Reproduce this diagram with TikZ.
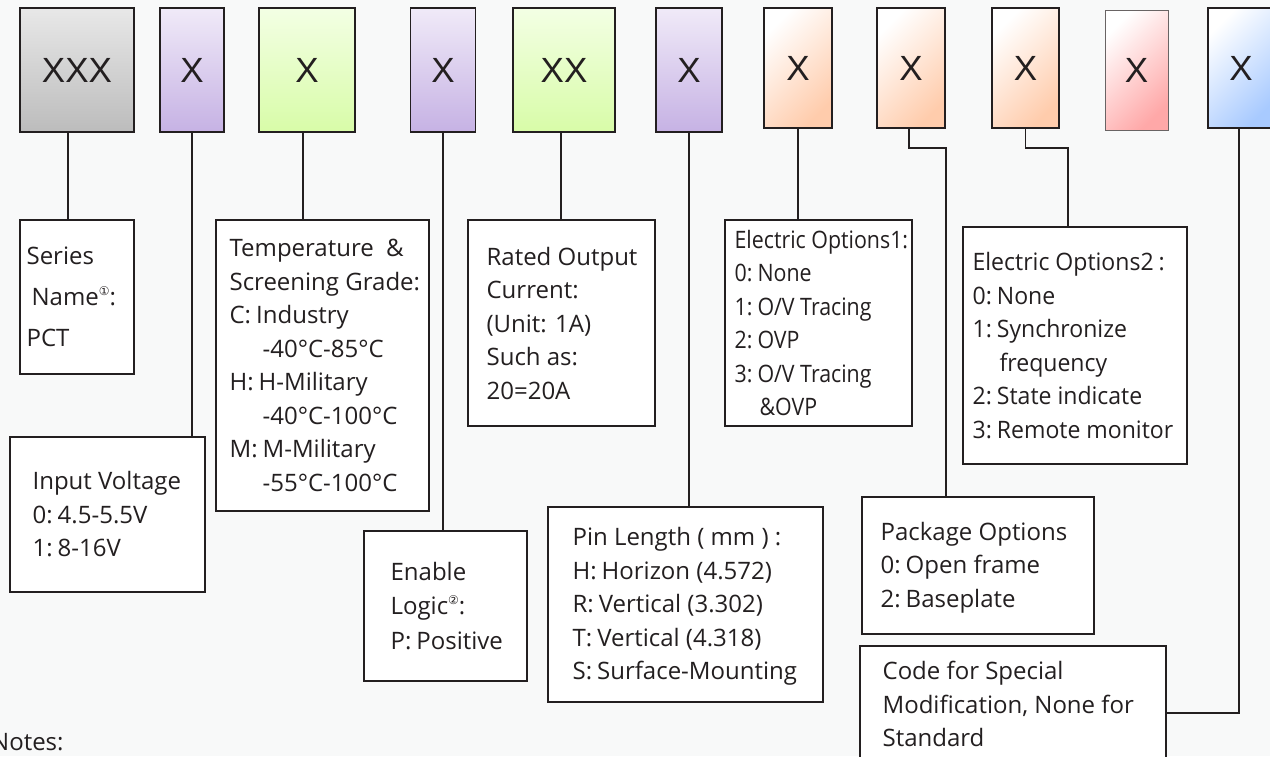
\documentclass[tikz,border=0pt]{standalone}
\usepackage{fontspec}
\setmainfont{Open Sans}
\newfontfamily\narrowfont[FakeStretch=0.89]{Open Sans}
\newfontfamily\semifont[FakeStretch=0.96]{Open Sans}
\newfontfamily\xlabelfont{Liberation Sans}
\newfontfamily\dejavu{DejaVu Sans}
\usepackage{xcolor}
\usetikzlibrary{positioning}

\definecolor{ink}{RGB}{35,31,32}
\definecolor{bgcol}{RGB}{248,249,249}
\definecolor{greytop}{RGB}{232,232,232}
\definecolor{greybot}{RGB}{188,188,188}
\definecolor{lilactop}{RGB}{240,234,248}
\definecolor{lilacbot}{RGB}{198,178,228}
\definecolor{limetop}{RGB}{243,255,228}
\definecolor{limebot}{RGB}{216,252,168}
\definecolor{peach}{RGB}{255,204,172}
\definecolor{rose}{RGB}{255,168,168}
\definecolor{sky}{RGB}{168,202,255}
\definecolor{rosedraw}{RGB}{105,100,100}

\newcommand{\circnum}[1]{\raisebox{10pt}{\dejavu\fontsize{12}{12}\selectfont #1}}
\newcommand{\colsp}{:\hspace{5pt}}

\tikzset{
  codebox/.style={draw=ink, line width=1.3pt, inner sep=0pt, text=ink,
    font=\xlabelfont\fontsize{35}{35}\selectfont},
  vshade/.style 2 args={top color=#1, bottom color=#2},
  dshade/.style={top color=white, bottom color=#1, shading angle=45},
  descbox/.style={draw=ink, line width=1.2pt, fill=white, inner sep=0pt},
  desctext/.style={inner sep=0pt, align=left, text=ink,
    font=\fontsize{24}{33.5}\selectfont},
  conn/.style={draw=ink, line width=1.8pt},
}

\begin{document}
\begin{tikzpicture}[x=1pt, y=-1pt]
    % Sfondo
    \fill[bgcol] (0,0) rectangle (1270,756);
    \useasboundingbox (0,0) rectangle (1270,756);

    % Riquadri del codice
    \node[codebox, vshade={greytop}{greybot}, minimum width=114pt, minimum height=124pt] (b1) at (77,70) {XXX};
    \node[codebox, vshade={lilactop}{lilacbot}, minimum width=64pt, minimum height=124pt] (b2) at (192,70) {X};
    \node[codebox, vshade={limetop}{limebot}, minimum width=96pt, minimum height=124pt] (b3) at (307,70) {X};
    \node[codebox, vshade={lilactop}{lilacbot}, minimum width=65pt, minimum height=124pt] (b4) at (443,70) {X};
    \node[codebox, vshade={limetop}{limebot}, minimum width=102pt, minimum height=124pt] (b5) at (564,70) {XX};
    \node[codebox, vshade={lilactop}{lilacbot}, minimum width=66pt, minimum height=124pt] (b6) at (689,70) {X};
    \node[codebox, dshade=peach, minimum width=68pt, minimum height=120pt] (b7) at (798,68) {X};
    \node[codebox, dshade=peach, minimum width=68pt, minimum height=120pt] (b8) at (911,68) {X};
    \node[codebox, dshade=peach, minimum width=67pt, minimum height=120pt] (b9) at (1025.5,68) {X};
    \node[codebox, dshade=rose, draw=rosedraw, line width=1pt, minimum width=63pt, minimum height=120pt] (b10) at (1136.5,70) {X};
    \node[codebox, dshade=sky, minimum width=66pt, minimum height=120pt] (b11) at (1241,68) {X};

    % Serie
    \node[descbox, minimum width=114pt, minimum height=154pt] (series) at (77,297) {};
    \node[desctext, font=\fontsize{24}{41}\selectfont, right=7pt of series.west] (series-txt)
        {Series\\\hspace*{5pt}Name\circnum{①}:\\PCT};

    % Tensione di ingresso
    \node[descbox, minimum width=195pt, minimum height=155pt] (volt) at (107.5,514.5) {};
    \node[desctext, right=23pt of volt.west] (volt-txt) {Input Voltage\\0\colsp 4.5-5.5V\\1\colsp 8-16V};

    % Temperatura
    \node[descbox, minimum width=213pt, minimum height=291pt] (temp) at (322.5,365.5) {};
    \node[desctext, right=14pt of temp.west] (temp-txt)
        {Temperature\ \ \&\\Screening Grade:\\C\colsp Industry\\\hspace*{33pt}-40°C-85°C\\H\colsp H-Military\\\hspace*{33pt}-40°C-100°C\\M\colsp M-Military\\\hspace*{33pt}-55°C-100°C};

    % Abilitazione
    \node[descbox, minimum width=163pt, minimum height=150pt] (enable) at (445.5,606) {};
    \node[desctext, font=\fontsize{24}{34.5}\selectfont, right=27pt of enable.west] (enable-txt)
        {Enable\\Logic\circnum{②}:\\P\colsp Positive};

    % Corrente
    \node[descbox, minimum width=187pt, minimum height=206pt] (rated) at (561.5,323) {};
    \node[desctext, right=19pt of rated.west] (rated-txt) {Rated Output\\Current:\\(Unit: 1A)\\Such as:\\20=20A};

    % Pin
    \node[descbox, minimum width=275pt, minimum height=195pt] (pin) at (685.5,604.5) {};
    \node[desctext, right=25pt of pin.west, yshift=-2pt] (pin-txt)
        {Pin Length ( mm ) :\\H\colsp Horizon (4.572)\\R\colsp Vertical (3.302)\\T\colsp Vertical (4.318)\\S\colsp Surface-Mounting};

    % Opzioni elettriche 1
    \node[descbox, minimum width=187pt, minimum height=206pt] (eo1) at (818.5,323) {};
    \node[desctext, font=\narrowfont\fontsize{24}{33.5}\selectfont, right=10pt of eo1.west] (eo1-txt)
        {Electric Options1:\\0\colsp None\\1\colsp O/V Tracing\\2\colsp OVP\\3\colsp O/V Tracing\\\hspace*{25pt}\&OVP};

    % Opzioni elettriche 2
    \node[descbox, minimum width=224pt, minimum height=237pt] (eo2) at (1075,345.5) {};
    \node[desctext, font=\semifont\fontsize{24}{33.5}\selectfont, right=10pt of eo2.west] (eo2-txt)
        {Electric Options2\hspace{5pt}:\\0\colsp None\\1\colsp Synchronize\\\hspace*{27pt}frequency\\2\colsp State indicate\\3\colsp Remote monitor};

    % Package
    \node[descbox, minimum width=232pt, minimum height=137pt] (pkg) at (978,565.5) {};
    \node[desctext, right=19pt of pkg.west, yshift=-2pt] (pkg-txt) {Package Options\\0\colsp Open frame\\2\colsp Baseplate};

    % Codice speciale
    \node[descbox, minimum width=306pt, minimum height=134pt] (code) at (1013,713) {};
    \node[desctext, right=23pt of code.west, yshift=9pt] (code-txt) {Code for Special\\Modification, None for\\Standard};

    % Note
    \node[desctext, anchor=base west] (notes) at (-9,750) {Notes:};

    % Collegamenti
    \draw[conn] ([xshift=-9pt]b1.south) -- ([xshift=-9pt]b1.south |- series.north);
    \draw[conn] (b2.south) -- (b2.south |- volt.north);
    \draw[conn] ([xshift=-4pt]b3.south) -- ([xshift=-4pt]b3.south |- temp.north);
    \draw[conn] (b4.south) -- (b4.south |- enable.north);
    \draw[conn] ([xshift=-3pt]b5.south) -- ([xshift=-3pt]b5.south |- rated.north);
    \draw[conn] (b6.south) -- (b6.south |- pin.north);
    \draw[conn] (b7.south) -- (b7.south |- eo1.north);
    \draw[conn] ([xshift=-2pt]b8.south) -- ++(0,19) -| ([xshift=-32pt]pkg.north);
    \draw[conn] (b9.south) -- ++(0,19) -| ([xshift=-7pt]eo2.north);
    \draw[conn] ([xshift=-2pt]b11.south) |- (code.east);

\end{tikzpicture}
\end{document}
